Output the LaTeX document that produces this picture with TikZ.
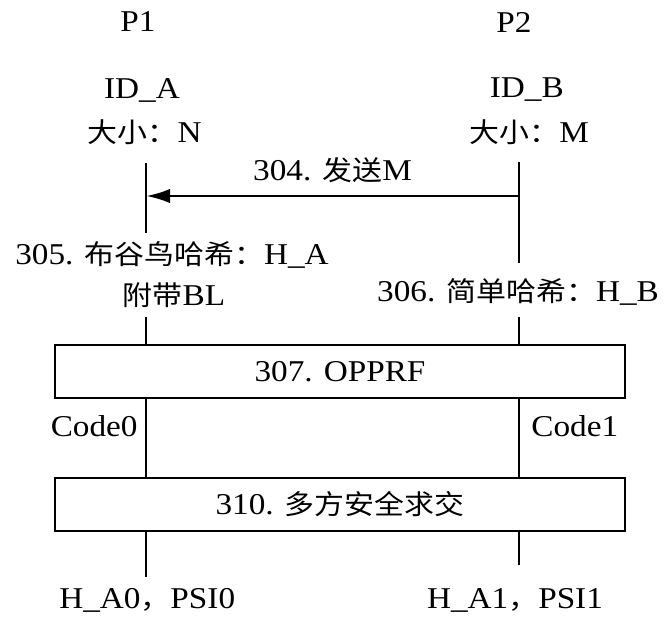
\documentclass[tikz,border=0pt]{standalone}
\usepackage{fontspec}
\setmainfont{Liberation Serif}[FakeStretch=1.1]
\newfontfamily\cjk{Noto Sans CJK SC}[Scale=0.9,FakeStretch=1.1]
\usetikzlibrary{arrows.meta}

\begin{document}
\begin{tikzpicture}[>={Latex[length=0.6cm,width=0.36cm]}, line width=2pt,
    lbl/.style={inner sep=0pt, font=\fontsize{21.5}{25}\selectfont},
    stepbox/.style={draw, rectangle, minimum width=14.25cm, minimum height=1.325cm, inner sep=0pt, font=\fontsize{21.5}{25}\selectfont}]
\useasboundingbox (0,0) rectangle (16.6,-15.575);
% parties
\node[lbl] (p1) at (3.45,-0.55) {P1};
\node[lbl] (p2) at (12.85,-0.55) {P2};
\node[lbl] (ida) at (3.55,-2.25) {ID\_A};
\node[lbl] (sza) at (3.62,-3.3) {{\cjk 大小：}N};
\node[lbl] (idb) at (13.17,-2.25) {ID\_B};
\node[lbl] (szb) at (13.23,-3.3) {{\cjk 大小：}M};
% lifelines, first part
\coordinate (la0) at (3.65,-4.075);
\coordinate (la1) at (3.65,-5.825);
\coordinate (rb0) at (12.975,-4.05);
\coordinate (rb1) at (12.975,-6.575);
\draw (la0) -- (la1);
\draw (rb0) -- (rb1);
\coordinate (sndr) at (12.975,-4.9);
\coordinate (sndl) at (3.65,-4.9);
\draw[->] (sndr) -- node[lbl, above=0.3cm] (send) {304. {\cjk 发送}M} (sndl);
% hashing
\node[lbl] (cuckoo) at (4.3,-6.375) {305. {\cjk 布谷鸟哈希：}H\_A};
\node[lbl] (bl) at (4.35,-7.375) {{\cjk 附带}BL};
\node[lbl] (simple) at (12.95,-7.3) {306. {\cjk 简单哈希：}H\_B};
\coordinate (la2) at (3.65,-7.925);
\coordinate (rb2) at (12.975,-7.925);
% protocol boxes
\node[stepbox] (opprf) at (8.5,-9.2875) {307. OPPRF};
\node[stepbox] (psi) at (8.5,-12.6125) {310. {\cjk 多方安全求交}};
\draw (la2) -- (la2 |- opprf.north);
\draw (rb2) -- (rb2 |- opprf.north);
\draw (opprf.south -| la2) -- (psi.north -| la2);
\draw (opprf.south -| rb2) -- (psi.north -| rb2);
\node[lbl, anchor=east] (code0) at (3.475,-10.65) {Code0};
\node[lbl, anchor=west] (code1) at (13.25,-10.65) {Code1};
% outputs
\coordinate (la3) at (3.65,-14.425);
\coordinate (rb3) at (12.975,-14.125);
\draw (psi.south -| la3) -- (la3);
\draw (psi.south -| rb3) -- (rb3);
\node[lbl] (outa) at (3.68,-15.0) {H\_A0{\cjk ，}PSI0};
\node[lbl] (outb) at (12.875,-15.0) {H\_A1{\cjk ，}PSI1};
\end{tikzpicture}
\end{document}
